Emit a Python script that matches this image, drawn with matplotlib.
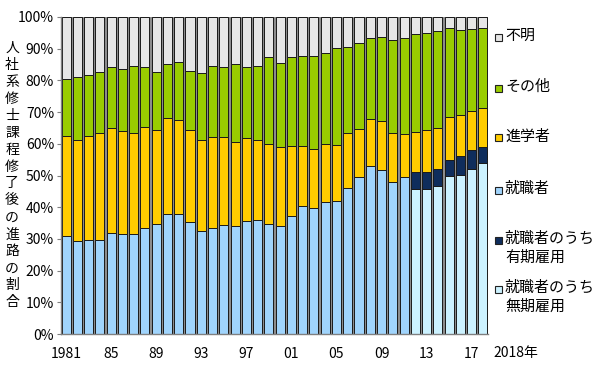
import numpy as np
import matplotlib
matplotlib.use("Agg")
import matplotlib.pyplot as plt
from matplotlib.patches import Rectangle

plt.rcParams['font.family'] = ['Noto Sans CJK JP', 'DejaVu Sans']

years = list(range(1981, 2019))

# 就職者 (all employed, before split) 1981-2011
employed = [30.9, 29.2, 29.5, 29.7, 32.0, 31.6, 31.6, 33.5, 34.6, 37.7,
            37.7, 35.2, 32.6, 33.4, 34.5, 34.2, 35.8, 36.0, 34.7, 34.2,
            37.2, 40.3, 39.8, 41.5, 42.0, 46.0, 49.4, 53.1, 51.8, 47.9,
            49.5]
# 2012-2018 split
permanent = [45.6, 45.6, 46.6, 49.8, 50.3, 52.2, 54.0]   # 無期雇用
fixed_term = [5.5, 5.6, 5.3, 5.1, 5.8, 5.7, 4.9]        # 有期雇用
further_study = [31.6, 32.1, 32.9, 33.8, 33.1, 32.4, 31.8, 31.8, 29.8, 30.5,
                 29.7, 29.3, 28.5, 28.6, 27.5, 26.5, 26.0, 25.3, 25.2, 24.7,
                 22.1, 19.0, 18.5, 18.4, 17.6, 17.4, 15.3, 14.8, 15.5, 15.4,
                 13.7, 12.6, 13.0, 13.2, 13.7, 13.0, 12.6, 12.5]
other = [17.9, 19.8, 19.4, 19.1, 19.2, 19.5, 21.2, 18.9, 18.4, 17.1,
         18.4, 18.4, 21.3, 22.5, 22.2, 24.6, 22.4, 23.4, 27.5, 26.7,
         28.2, 28.3, 29.4, 28.6, 30.5, 27.0, 27.0, 25.4, 26.4, 29.3,
         30.3, 30.8, 30.7, 30.4, 27.9, 26.8, 25.7, 25.2]

xlabels = ['1981', '85', '89', '93', '97', '01', '05', '09', '13', '17']

c_perm = '#ccf2ff'
c_fixed = '#0f2d5c'
c_emp = '#a0d4fc'
c_study = '#ffcc00'
c_other = '#99cc00'
c_unknown = '#e6e6e6'

x = np.arange(len(years))
n_old = len(employed)
emp_all = np.array(employed + [p + f for p, f in zip(permanent, fixed_term)])
study = np.array(further_study)
oth = np.array(other)
unknown = 100 - emp_all - study - oth

fig = plt.figure(figsize=(6.0, 3.71), dpi=100)
ax = fig.add_axes([61 / 600, 37 / 371, 427 / 600, 317 / 371])
ax.set_facecolor('#8c8c8c')

w = 0.8
kw = dict(width=w, edgecolor='#1a1a1a', linewidth=0.7)
ax.bar(x[:n_old], employed, color=c_emp, **kw)
ax.bar(x[n_old:], permanent, color=c_perm, **kw)
ax.bar(x[n_old:], fixed_term, bottom=permanent, color=c_fixed, **kw)
ax.bar(x, study, bottom=emp_all, color=c_study, **kw)
ax.bar(x, oth, bottom=emp_all + study, color=c_other, **kw)
ax.bar(x, unknown, bottom=emp_all + study + oth, color=c_unknown, **kw)

ax.set_xlim(-0.45, len(years) - 0.55)
ax.set_ylim(0, 100)
ax.set_yticks(np.arange(0, 101, 10))
ax.set_yticklabels([f'{v}%' for v in range(0, 101, 10)], fontsize=10)
ax.set_xticks(x[::4])
ax.set_xticklabels(xlabels, fontsize=10)
ax.tick_params(axis='x', length=0, pad=9)
ax.tick_params(axis='y', length=3, width=0.8, color='#808080', pad=2)
for s in ['top', 'right']:
    ax.spines[s].set_visible(False)
for s in ['left', 'bottom']:
    ax.spines[s].set_color('#808080')
    ax.spines[s].set_linewidth(1.0)

fig.text(493 / 600, 1 - 353 / 371, '2018年', fontsize=10, va='center', ha='left')

ylab = '人社系修士課程修了後の進路の割合'
fig.text(12 / 600, 1 - 175 / 371, '\n'.join(ylab), fontsize=10, ha='center',
         va='center', linespacing=1.27)

legend_items = [
    (c_unknown, '不明', 37),
    (c_other, 'その他', 88),
    (c_study, '進学者', 138),
    (c_emp, '就職者', 190),
    (c_fixed, '就職者のうち\n有期雇用', 240),
    (c_perm, '就職者のうち\n無期雇用', 289),
]
for col, lab, ypix in legend_items:
    fig.patches.append(Rectangle((495 / 600, 1 - (ypix + 3.5) / 371), 7 / 600, 7 / 371,
                                 transform=fig.transFigure, facecolor=col,
                                 edgecolor='#222222', linewidth=0.8))
    fig.text(505 / 600, 1 - (ypix - 8.5) / 371, lab, fontsize=10.8, ha='left',
             va='top', linespacing=1.4)

fig.savefig('out.png', dpi=100)
